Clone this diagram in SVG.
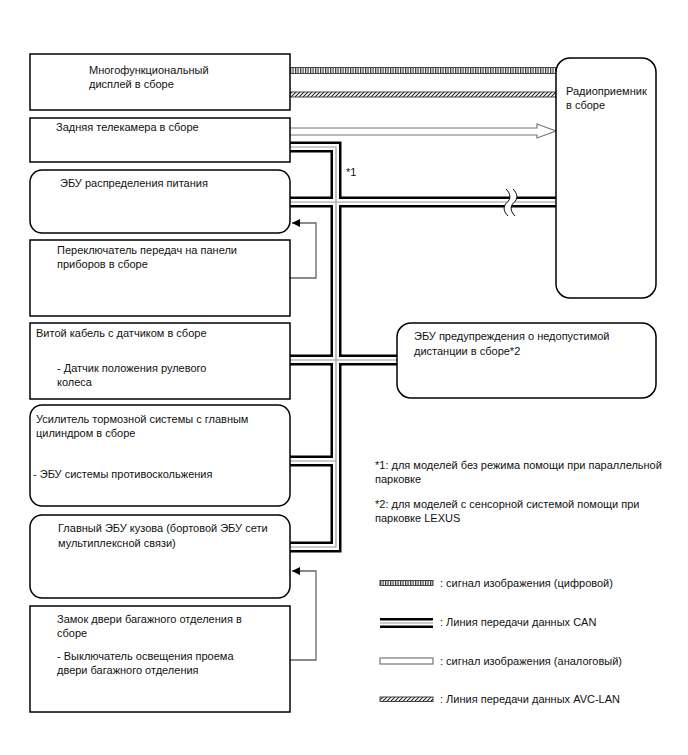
<svg xmlns="http://www.w3.org/2000/svg" xmlns:xlink="http://www.w3.org/1999/xlink" width="688" height="755" viewBox="0 0 688 755">
<style>
text{font-family:"Liberation Sans",Arial,sans-serif;font-size:11px;fill:#111}
.box{fill:#fff;stroke:#000;stroke-width:1.5}
.canB{fill:none;stroke:#000;stroke-width:11}
.canW{fill:none;stroke:#fff;stroke-width:6}
.canG{fill:none;stroke:#999;stroke-width:1.2}
.sig{fill:none;stroke:#666;stroke-width:1.3}
.dig{fill:url(#vt);stroke:#444;stroke-width:1}
.avc{fill:url(#dg);stroke:#444;stroke-width:1}
.ana{fill:#fff;stroke:#777;stroke-width:1.2}
</style>
<defs>
<pattern id="vt" patternUnits="userSpaceOnUse" width="2.5" height="10"><rect x="0" y="0" width="1.2" height="10" fill="#333"/></pattern>
<pattern id="dg" patternUnits="userSpaceOnUse" width="4" height="4"><path d="M-1,1 L1,-1 M0,4 L4,0 M3,5 L5,3" stroke="#222" stroke-width="1.1"/></pattern>
<marker id="ah" viewBox="0 0 10 10" refX="10" refY="5" markerWidth="10" markerHeight="8" markerUnits="userSpaceOnUse" orient="auto"><path d="M0,0 L10,5 L0,10 z" fill="#000"/></marker>
<path id="b1" d="M290,147 H336 V547 H290"/>
<path id="b2" d="M290,202 H556"/>
<path id="b3" d="M290,360 H397"/>
<path id="b4" d="M290,461 H336"/>
</defs>

<g id="connectors">
<rect class="dig" x="290" y="67.5" width="266" height="6"/>
<rect class="avc" x="290" y="92" width="266" height="5"/>
<path class="ana" d="M290,128 H537 V124 L556,131 L537,138 V135 H290"/>
<use href="#b1" class="canB"/><use href="#b2" class="canB"/><use href="#b3" class="canB"/><use href="#b4" class="canB"/>
<use href="#b1" class="canW"/><use href="#b2" class="canW"/><use href="#b3" class="canW"/><use href="#b4" class="canW"/>
<use href="#b1" class="canG"/><use href="#b2" class="canG"/><use href="#b3" class="canG"/><use href="#b4" class="canG"/>
<path d="M506,189 C511,194 511,199 507,202.5 C503,206 503,211 508,216 L515,216 C510,211 510,206 514,202.5 C518,199 518,194 513,189 Z" fill="#fff"/>
<path d="M506,189 C511,194 511,199 507,202.5 C503,206 503,211 508,216 M513,189 C518,194 518,199 514,202.5 C510,206 510,211 515,216" fill="none" stroke="#000" stroke-width="1"/>
<path class="sig" d="M290,278 H316 V223 H292" marker-end="url(#ah)"/>
<path class="sig" d="M290,660 H316 V571 H292" marker-end="url(#ah)"/>
<text x="346" y="176">*1</text>
</g>

<g id="n-display"><rect class="box" x="30" y="54" width="260" height="56"/><text x="89" y="74">Многофункциональный</text><text x="89" y="88">дисплей в сборе</text></g>
<g id="n-camera"><rect class="box" x="30" y="118" width="260" height="44"/><text x="56" y="131">Задняя телекамера в сборе</text></g>
<g id="n-power"><rect class="box" x="30" y="170" width="260" height="63" rx="12"/><text x="60" y="187">ЭБУ распределения питания</text></g>
<g id="n-shift"><rect class="box" x="30" y="240" width="260" height="76"/><text x="57" y="254">Переключатель передач на панели</text><text x="57" y="268">приборов в сборе</text></g>
<g id="n-spiral"><rect class="box" x="30" y="323" width="260" height="76"/><text x="36" y="337">Витой кабель с датчиком в сборе</text><text x="57" y="372">- Датчик положения рулевого</text><text x="57" y="386">колеса</text></g>
<g id="n-brake"><rect class="box" x="30" y="405" width="260" height="101" rx="12"/><text x="36" y="423">Усилитель тормозной системы с главным</text><text x="36" y="437">цилиндром в сборе</text><text x="33" y="478">- ЭБУ системы противоскольжения</text></g>
<g id="n-body"><rect class="box" x="30" y="515" width="260" height="83" rx="12"/><text x="58" y="532">Главный ЭБУ кузова (бортовой ЭБУ сети</text><text x="58" y="547">мультиплексной связи)</text></g>
<g id="n-lock"><rect class="box" x="30" y="606" width="260" height="106"/><text x="57" y="623">Замок двери багажного отделения в</text><text x="57" y="637">сборе</text><text x="57" y="660">- Выключатель освещения проема</text><text x="57" y="674">двери багажного отделения</text></g>
<g id="n-radio"><rect class="box" x="556" y="58" width="100" height="240" rx="14"/><text x="566" y="95">Радиоприемник</text><text x="566" y="109">в сборе</text></g>
<g id="n-clearance"><rect class="box" x="397" y="323" width="259" height="75" rx="14"/><text x="414" y="340">ЭБУ предупреждения о недопустимой</text><text x="414" y="355">дистанции в сборе*2</text></g>

<g id="notes">
<text x="375" y="469">*1: для моделей без режима помощи при параллельной</text>
<text x="375" y="483">парковке</text>
<text x="375" y="508">*2: для моделей с сенсорной системой помощи при</text>
<text x="375" y="522">парковке LEXUS</text>
</g>

<g id="legend">
<rect class="dig" x="380" y="580.5" width="53" height="5"/>
<text x="440" y="587">: сигнал изображения (цифровой)</text>
<path d="M380,623 H433" class="canB" style="stroke-width:10"/><path d="M380,623 H433" class="canW" style="stroke-width:5"/><path d="M380,623 H433" class="canG"/>
<text x="440" y="626">: Линия передачи данных CAN</text>
<rect class="ana" x="380" y="658" width="53" height="6"/>
<text x="440" y="665">: сигнал изображения (аналоговый)</text>
<rect class="avc" x="380" y="697" width="53" height="4.5"/>
<text x="440" y="703">: Линия передачи данных AVC-LAN</text>
</g>
</svg>
